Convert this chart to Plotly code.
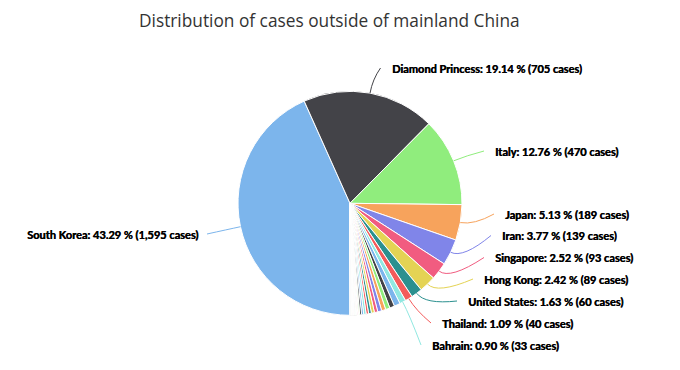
import math
import plotly.graph_objects as go

# ---- data ----
countries = [
    "South Korea", "Diamond Princess", "Italy", "Japan", "Iran", "Singapore",
    "Hong Kong", "United States", "Thailand", "Bahrain",
    "Taiwan", "Kuwait", "Australia", "Malaysia", "Germany", "France", "Vietnam",
    "United Kingdom", "United Arab Emirates", "Spain", "Canada", "Macau", "Iraq", "Oman",
    "Croatia", "India", "Philippines",
    "Austria", "Finland", "Israel", "Lebanon", "Pakistan", "Russia", "Sweden",
    "Afghanistan", "Algeria", "Belgium", "Brazil", "Cambodia", "Egypt", "Georgia",
    "Greece", "Nepal", "North Macedonia", "Norway", "Romania", "Sri Lanka",
    "Switzerland", "Denmark", "Estonia", "Netherlands", "Lithuania",
]
cases = [
    1595, 705, 470, 189, 139, 93,
    89, 60, 40, 33,
    32, 26, 23, 22, 21, 18, 16,
    15, 13, 13, 11, 10, 6, 4,
    3, 3, 3,
    2, 2, 2, 2, 2, 2, 2,
    1, 1, 1, 1, 1, 1, 1,
    1, 1, 1, 1, 1, 1,
    1, 1, 1, 1, 1,
]
# labelled slices and the percentages printed on the chart
labeled = ["South Korea", "Diamond Princess", "Italy", "Japan", "Iran",
           "Singapore", "Hong Kong", "United States", "Thailand", "Bahrain"]
labeled_pct = [43.29, 19.14, 12.76, 5.13, 3.77, 2.52, 2.42, 1.63, 1.09, 0.90]
title_text = "Distribution of cases outside of mainland China"

# ---- style / layout ----
palette = ["#7cb5ec", "#434348", "#90ed7d", "#f7a35c", "#8085e9",
           "#f15c80", "#e4d354", "#2b908f", "#f45b5b", "#91e8e1"]
colors = [palette[i % len(palette)] for i in range(len(cases))]

W, H = 680, 370
OFF = 8  # page body margin in the browser
CX, CY, R = 350, 203.3, 112
ROT = 180
# label anchor (x, y, side) in page pixels
label_pos = {
    "South Korea": (200, 234, "right"),
    "Diamond Princess": (389.5, 68, "left"),
    "Italy": (493, 151, "left"),
    "Japan": (503, 214, "left"),
    "Iran": (500, 235.5, "left"),
    "Singapore": (493, 257.5, "left"),
    "Hong Kong": (482, 279, "left"),
    "United States": (466, 301, "left"),
    "Thailand": (440, 323, "left"),
    "Bahrain": (430, 345, "left"),
}
LABEL_FONT = "Lato"
TITLE_FONT = "Open Sans"


def px(x):
    return (x - OFF) / W


def py(y):
    return 1 - (y - OFF) / H


total = sum(cases)

fig = go.Figure(go.Pie(
    labels=countries, values=cases, sort=False, direction="clockwise",
    rotation=ROT, textinfo="none", hoverinfo="skip",
    marker=dict(colors=colors, line=dict(color="#ffffff", width=1)),
    domain=dict(x=[px(CX - R), px(CX + R)], y=[py(CY + R), py(CY - R)]),
    showlegend=False,
))

shapes = []
annotations = []
cum = 0
for name, v, col in zip(countries, cases, colors):
    mid = math.radians(ROT + 360 * (cum + v / 2) / total)
    cum += v
    if name not in labeled:
        continue
    pct = labeled_pct[labeled.index(name)]
    lx, ly, side = label_pos[name]
    sx, sy = CX + R * math.sin(mid), CY - R * math.cos(mid)
    cx, cy = CX + (R + 14) * math.sin(mid), CY - (R + 14) * math.cos(mid)
    ex = lx - 9 if side == "left" else lx + 7
    ey = ly
    path = "M {} {} Q {} {} {} {}".format(px(sx), py(sy), px(cx), py(cy), px(ex), py(ey))
    shapes.append(dict(type="path", xref="paper", yref="paper", path=path,
                       line=dict(color=col, width=1)))
    txt = "{}: {:.2f} % ({:,} cases)".format(name, pct, v)
    annotations.append(dict(
        text=txt, x=px(lx), y=py(ly), xref="paper", yref="paper",
        xanchor=side, yanchor="middle", showarrow=False,
        font=dict(family=LABEL_FONT, size=11, color="#000000", weight="bold",
                  shadow="0.45px 0px 0px #000000"),
    ))

annotations.append(dict(
    text=title_text, x=px(329.5), y=py(20), xref="paper", yref="paper",
    xanchor="center", yanchor="middle", showarrow=False,
    font=dict(family=TITLE_FONT, size=17.3, color="#333333"),
))

fig.update_layout(
    width=W, height=H, margin=dict(l=0, r=0, t=0, b=0),
    paper_bgcolor="#ffffff", plot_bgcolor="#ffffff",
    shapes=shapes, annotations=annotations,
)
fig.write_html("out.html")
